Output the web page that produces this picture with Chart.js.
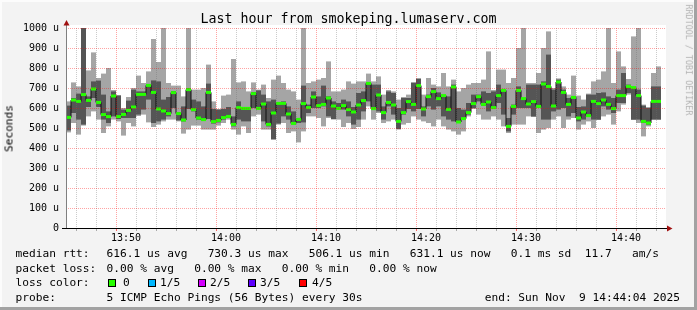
<!DOCTYPE html>
<html><head><meta charset="utf-8">
<script src="https://cdn.jsdelivr.net/npm/chart.js@4/dist/chart.umd.min.js"></script>
<style>
html,body{margin:0;padding:0;background:#f3f3f3;}
#wrap{position:relative;width:697px;height:310px;overflow:hidden;}
#c{position:absolute;left:0;top:0;}
.t{position:absolute;font-family:'DejaVu Sans Mono',monospace;color:#000;white-space:pre;line-height:1.164;}
.sq{position:absolute;width:8px;height:8px;box-sizing:border-box;border:1px solid #000;}
</style></head><body>
<div id="wrap">
<canvas id="c" width="697" height="310"></canvas>
<div class="t" style="font-size:13.3px;left:0;width:697px;text-align:center;top:10.5px">Last hour from smokeping.lumaserv.com</div>
<div class="t" style="font-size:11.2px;left:-41px;width:100px;text-align:center;top:121.5px;transform:rotate(-90deg);">Seconds</div>
<div class="t" style="font-size:8.4px;left:618px;width:140px;text-align:center;top:55px;transform:rotate(90deg);color:#b4b4b4;">RRDTOOL / TOBI OETIKER</div>
<div class="t" style="font-size:11.2px;left:15.5px;top:247.2px">median rtt:</div>
<div class="t" style="font-size:11.2px;left:106.6px;top:247.2px">616.1 us avg   730.3 us max   506.1 us min   631.1 us now   0.1 ms sd  11.7   am/s</div>
<div class="t" style="font-size:11.2px;left:15.5px;top:262.2px">packet loss:</div>
<div class="t" style="font-size:11.2px;left:106.6px;top:262.2px">0.00 % avg   0.00 % max   0.00 % min   0.00 % now</div>
<div class="t" style="font-size:11.2px;left:15.5px;top:276.4px">loss color:</div>
<div class="sq" style="left:108px;top:279px;background:#26ff00"></div>
<div class="t" style="font-size:11.2px;left:123px;top:276.4px">0</div>
<div class="sq" style="left:148px;top:279px;background:#00b8ff"></div>
<div class="t" style="font-size:11.2px;left:160px;top:276.4px">1/5</div>
<div class="sq" style="left:198px;top:279px;background:#d400ff"></div>
<div class="t" style="font-size:11.2px;left:210px;top:276.4px">2/5</div>
<div class="sq" style="left:248px;top:279px;background:#5e00ff"></div>
<div class="t" style="font-size:11.2px;left:260px;top:276.4px">3/5</div>
<div class="sq" style="left:299px;top:279px;background:#ff0000"></div>
<div class="t" style="font-size:11.2px;left:312px;top:276.4px">4/5</div>
<div class="t" style="font-size:11.2px;left:15.5px;top:291.2px">probe:</div>
<div class="t" style="font-size:11.2px;left:106.6px;top:291.2px">5 ICMP Echo Pings (56 Bytes) every 30s</div>
<div class="t" style="font-size:11.2px;right:17px;top:291.2px">end: Sun Nov  9 14:44:04 2025</div>
</div>
<script>
// time axis: seconds since midnight, 30 s steps from 13:44:00
const startSec = 13 * 3600 + 44 * 60;
const stepSec = 30;
const spanSec = 3600;
const xTickLabels = ['13:50', '14:00', '14:10', '14:20', '14:30', '14:40'];
const firstMajorSec = 13 * 3600 + 50 * 60;
const yTickLabels = ['0', '100 u', '200 u', '300 u', '400 u', '500 u', '600 u', '700 u', '800 u', '900 u', '1000 u'];

// RTT values in microseconds (smoke bands: lightest = min..max, dark = 2nd..4th ping)
const lightLow = [478,525,467,512,558,583,542,475,508,542, 533,462,525,508,560,567,528,505,517,533,
  542,542,533,472,492,512,512,492,492,492, 512,525,542,492,467,508,475,558,567,492,
  492,440,517,525,475,483,428,483,558,558, 550,508,550,542,542,505,525,495,505,542,
  608,542,575,525,533,542,492,517,525,558, 542,533,525,508,542,508,492,483,467,483,
  558,595,567,542,542,558,542,508,475,517, 517,517,558,555,475,492,500,542,558,500,
  542,550,492,517,533,500,540,558,567,517, 583,617,667,540,525,458,508,542,542];
const darkLow = [488,575,542,517,605,650,605,542,525,558, 545,550,550,550,567,592,642,525,533,542,
  558,600,538,533,595,583,542,535,545,522, 528,542,550,508,542,533,533,600,592,533,
  508,445,522,558,542,518,525,528,575,600, 600,608,558,545,592,592,558,517,542,583,
  633,590,583,542,608,567,495,567,595,583, 595,558,608,592,608,558,542,533,525,542,
  567,600,633,610,583,595,625,567,483,567, 600,600,600,558,600,542,542,583,592,600,
  558,575,533,542,558,542,542,608,592,575, 625,625,675,542,542,525,517,542,542];
const median = [553,640,633,667,638,695,628,567,557,660, 557,568,588,605,668,668,713,678,595,585,
  572,677,572,540,692,592,550,542,678,532, 538,552,558,518,602,598,598,672,598,620,
  518,575,623,623,570,523,543,622,602,655, 612,618,650,610,598,612,592,580,615,637,
  723,597,665,577,628,615,533,577,632,618, 712,595,657,682,647,662,593,705,530,547,
  577,622,657,618,630,602,662,688,508,608, 688,647,620,632,608,720,708,610,730,678,
  618,653,550,580,562,633,622,640,618,597, 662,662,708,702,662,533,525,633,633];
const darkHigh = [612,650,672,1020,658,733,737,667,583,683, 662,592,637,692,683,683,717,738,733,642,
  655,685,578,608,700,642,633,608,722,595, 592,595,605,558,633,605,605,680,688,667,
  633,642,628,633,608,583,550,712,617,683, 658,712,658,633,625,642,633,605,675,683,
  730,717,717,608,683,675,600,650,650,725, 745,608,667,700,678,665,658,717,600,592,
  625,667,667,683,675,683,717,692,550,617, 708,650,717,717,717,733,867,692,742,692,
  650,658,605,608,667,667,675,678,658,650, 692,775,717,705,692,612,600,708,708];
const lightHigh = [633,728,708,1050,788,878,750,772,800,690, 665,600,655,700,762,725,783,945,830,1010,
  725,712,712,658,1010,692,692,700,817,633, 595,662,667,845,728,733,683,728,692,717,
  650,742,762,725,692,683,642,1010,725,733, 742,750,833,683,683,692,733,722,733,733,
  772,733,758,667,690,683,642,655,667,730, 750,667,750,717,708,775,708,742,683,700,
  717,725,725,742,883,690,792,792,725,750, 900,1010,725,725,775,900,983,700,748,708,
  667,762,662,642,672,733,742,783,1010,725, 883,808,745,958,1010,617,605,775,808];

const times = median.map((_, i) => startSec + stepSec * i + stepSec / 2);
const medPts = times.map((t, i) => ({x: t, y: median[i]}));
const darkPts = times.map((t, i) => ({x: t, y: [darkLow[i], darkHigh[i]]}));
const lightPts = times.map((t, i) => ({x: t, y: [lightLow[i], lightHigh[i]]}));

const MAJOR = 'rgba(255,0,0,0.36)';
const MINOR = 'rgba(110,110,110,0.36)';

const framePlugin = {
  id: 'frame',
  beforeDraw(chart) {
    const c = chart.ctx, a = chart.chartArea;
    c.save();
    c.fillStyle = '#f3f3f3'; c.fillRect(0, 0, 697, 310);
    c.fillStyle = '#fcfcfc'; c.fillRect(0, 0, 697, 2); c.fillRect(0, 0, 2, 310);
    c.fillStyle = '#a2a2a2'; c.fillRect(0, 307, 697, 3); c.fillRect(694, 0, 3, 310);
    c.fillStyle = '#ffffff'; c.fillRect(a.left, a.top - 3, a.right - a.left, a.bottom - a.top + 3);
    c.restore();
  },
  afterDraw(chart) {
    const c = chart.ctx, a = chart.chartArea;
    c.save();
    c.fillStyle = '#808080'; c.fillRect(a.left, a.top - 4, 1, a.bottom - a.top + 4);
    c.fillStyle = '#000000'; c.fillRect(a.left - 4, a.bottom, a.right - a.left + 8, 1);
    c.fillStyle = '#a01010';
    c.beginPath(); c.moveTo(a.left - 2.5, a.top - 2.5); c.lineTo(a.left + 3.5, a.top - 2.5); c.lineTo(a.left + 0.5, a.top - 8); c.closePath(); c.fill();
    c.beginPath(); c.moveTo(a.right + 1, a.bottom - 2.5); c.lineTo(a.right + 1, a.bottom + 3.5); c.lineTo(a.right + 6.5, a.bottom + 0.5); c.closePath(); c.fill();
    c.restore();
  }
};

const barCommon = {grouped: false, barPercentage: 1, categoryPercentage: 1, inflateAmount: 0, borderWidth: 0};

new Chart(document.getElementById('c'), {
  type: 'bar',
  data: {
    datasets: [
      {type: 'line', data: medPts, showLine: false, pointStyle: 'line', pointRadius: 2.5, pointBorderWidth: 3,
        pointBorderColor: '#26ff00', pointBackgroundColor: '#26ff00', order: 0},
      {type: 'line', data: medPts, stepped: 'middle', borderColor: '#111111', borderWidth: 1, pointRadius: 0, fill: false, order: 1},
      Object.assign({data: darkPts, backgroundColor: '#555555', order: 2}, barCommon),
      Object.assign({data: lightPts, backgroundColor: '#a5a5a5', order: 3}, barCommon)
    ]
  },
  options: {
    responsive: false,
    animation: false,
    events: [],
    devicePixelRatio: 1,
    layout: {padding: {top: 28, right: 31, left: 0, bottom: 0}},
    plugins: {legend: {display: false}, tooltip: {enabled: false}, title: {display: false}},
    scales: {
      x: {
        type: 'linear', min: startSec, max: startSec + spanSec, offset: false,
        afterBuildTicks(s) {
          const tk = [];
          for (let t = startSec; t <= startSec + spanSec; t += 120) tk.push({value: t});
          s.ticks = tk;
        },
        afterFit(s) { s.height = 82; },
        grid: {
          z: 1, lineWidth: 1, drawTicks: true, tickLength: 3,
          color: (ctx) => (ctx.tick && (ctx.tick.value - firstMajorSec) % 600 === 0) ? MAJOR : MINOR,
          tickColor: (ctx) => (ctx.tick && (ctx.tick.value - firstMajorSec) % 600 === 0) ? 'rgba(255,0,0,0.6)' : 'rgba(120,120,120,0.6)'
        },
        border: {display: false, dash: [1, 1]},
        ticks: {
          autoSkip: false, maxRotation: 0, padding: 1, color: '#000',
          font: {family: 'DejaVu Sans Mono', size: 10},
          callback: (v) => {
            const d = v - firstMajorSec;
            const k = d / 600;
            return (d >= 0 && d % 600 === 0 && k < xTickLabels.length) ? xTickLabels[k] : '';
          }
        }
      },
      y: {
        min: 0, max: 1000,
        afterFit(s) { s.width = 66; },
        grid: {
          z: 1, lineWidth: 1, drawTicks: false,
          color: (ctx) => (ctx.tick && ctx.tick.value % 100 === 0) ? MAJOR : MINOR
        },
        border: {display: false, dash: [1, 1]},
        ticks: {
          stepSize: 50, padding: 7, color: '#000',
          font: {family: 'DejaVu Sans Mono', size: 10},
          callback: (v) => (v % 100 === 0) ? yTickLabels[v / 100] : ''
        }
      }
    }
  },
  plugins: [framePlugin]
});
</script>
</body></html>
